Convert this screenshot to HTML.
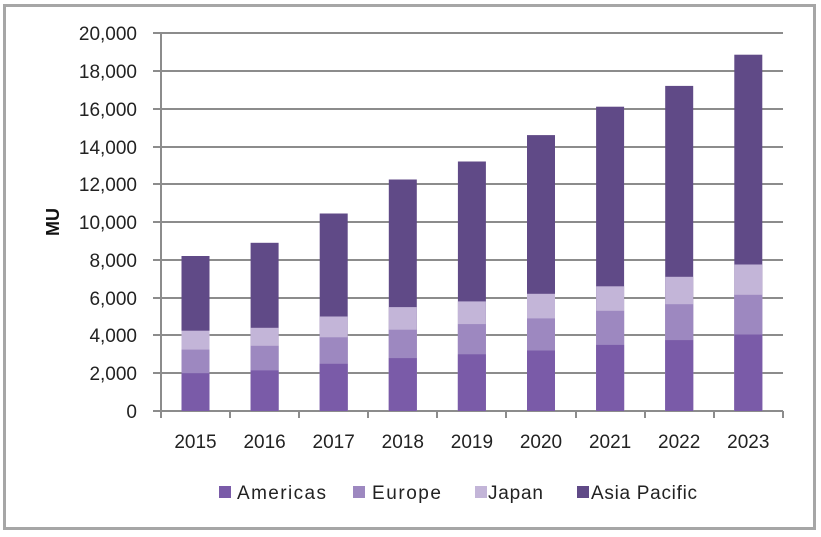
<!DOCTYPE html>
<html><head><meta charset="utf-8"><style>
html,body{margin:0;padding:0;background:#fff;}
svg{display:block;font-family:"Liberation Sans",sans-serif;}
</style></head><body>
<svg width="821" height="537" viewBox="0 0 821 537" xmlns="http://www.w3.org/2000/svg">
<rect x="0" y="0" width="821" height="537" fill="#fff"/>
<rect x="4.5" y="5.5" width="810" height="523" fill="#fff" stroke="#a6a6a6" stroke-width="3"/>
<g stroke="#8c8c8c" stroke-width="2">
<line x1="153" y1="33" x2="783" y2="33"/><line x1="153" y1="71" x2="783" y2="71"/>
<line x1="153" y1="109" x2="783" y2="109"/><line x1="153" y1="147" x2="783" y2="147"/>
<line x1="153" y1="184" x2="783" y2="184"/><line x1="153" y1="222" x2="783" y2="222"/>
<line x1="153" y1="260" x2="783" y2="260"/><line x1="153" y1="298" x2="783" y2="298"/>
<line x1="153" y1="335" x2="783" y2="335"/><line x1="153" y1="373" x2="783" y2="373"/>
<line x1="153" y1="411" x2="783" y2="411"/>
<line x1="161" y1="33" x2="161" y2="418"/>
<line x1="230" y1="411" x2="230" y2="418"/><line x1="299" y1="411" x2="299" y2="418"/>
<line x1="368" y1="411" x2="368" y2="418"/><line x1="437" y1="411" x2="437" y2="418"/>
<line x1="506" y1="411" x2="506" y2="418"/><line x1="576" y1="411" x2="576" y2="418"/>
<line x1="645" y1="411" x2="645" y2="418"/><line x1="714" y1="411" x2="714" y2="418"/>
<line x1="783" y1="411" x2="783" y2="418"/>
</g>
<g>
<rect x="181.5" y="256" width="28" height="155" fill="#604a87"/>
<rect x="181.5" y="330.7" width="28" height="80.3" fill="#c3b5d8"/>
<rect x="181.5" y="349.6" width="28" height="61.4" fill="#9d88c0"/>
<rect x="181.5" y="373.2" width="28" height="37.8" fill="#7a5ba8"/>
<rect x="250.6" y="242.8" width="28" height="168.2" fill="#604a87"/>
<rect x="250.6" y="327.8" width="28" height="83.2" fill="#c3b5d8"/>
<rect x="250.6" y="345.8" width="28" height="65.2" fill="#9d88c0"/>
<rect x="250.6" y="370.4" width="28" height="40.6" fill="#7a5ba8"/>
<rect x="319.7" y="213.5" width="28" height="197.5" fill="#604a87"/>
<rect x="319.7" y="316.5" width="28" height="94.5" fill="#c3b5d8"/>
<rect x="319.7" y="337.3" width="28" height="73.7" fill="#9d88c0"/>
<rect x="319.7" y="363.8" width="28" height="47.2" fill="#7a5ba8"/>
<rect x="388.8" y="179.5" width="28" height="231.5" fill="#604a87"/>
<rect x="388.8" y="307.1" width="28" height="103.9" fill="#c3b5d8"/>
<rect x="388.8" y="329.7" width="28" height="81.3" fill="#9d88c0"/>
<rect x="388.8" y="358.1" width="28" height="52.9" fill="#7a5ba8"/>
<rect x="457.9" y="161.5" width="28" height="249.5" fill="#604a87"/>
<rect x="457.9" y="301.4" width="28" height="109.6" fill="#c3b5d8"/>
<rect x="457.9" y="324.1" width="28" height="86.9" fill="#9d88c0"/>
<rect x="457.9" y="354.3" width="28" height="56.7" fill="#7a5ba8"/>
<rect x="527" y="135.1" width="28" height="275.9" fill="#604a87"/>
<rect x="527" y="293.8" width="28" height="117.2" fill="#c3b5d8"/>
<rect x="527" y="318.4" width="28" height="92.6" fill="#9d88c0"/>
<rect x="527" y="350.5" width="28" height="60.5" fill="#7a5ba8"/>
<rect x="596.1" y="106.7" width="28" height="304.3" fill="#604a87"/>
<rect x="596.1" y="286.3" width="28" height="124.7" fill="#c3b5d8"/>
<rect x="596.1" y="310.8" width="28" height="100.2" fill="#9d88c0"/>
<rect x="596.1" y="344.9" width="28" height="66.1" fill="#7a5ba8"/>
<rect x="665.2" y="85.9" width="28" height="325.1" fill="#604a87"/>
<rect x="665.2" y="276.8" width="28" height="134.2" fill="#c3b5d8"/>
<rect x="665.2" y="304.2" width="28" height="106.8" fill="#9d88c0"/>
<rect x="665.2" y="340.1" width="28" height="70.9" fill="#7a5ba8"/>
<rect x="734.3" y="54.7" width="28" height="356.3" fill="#604a87"/>
<rect x="734.3" y="264.5" width="28" height="146.5" fill="#c3b5d8"/>
<rect x="734.3" y="294.8" width="28" height="116.2" fill="#9d88c0"/>
<rect x="734.3" y="334.5" width="28" height="76.5" fill="#7a5ba8"/>
</g>
<g font-size="19" fill="#222" text-anchor="end">
<text x="137" y="40">20,000</text><text x="137" y="78">18,000</text>
<text x="137" y="116">16,000</text><text x="137" y="154">14,000</text>
<text x="137" y="191">12,000</text><text x="137" y="229">10,000</text>
<text x="137" y="267">8,000</text><text x="137" y="305">6,000</text>
<text x="137" y="342">4,000</text><text x="137" y="380">2,000</text>
<text x="137" y="418">0</text>
</g>
<text x="59" y="222" font-size="18" font-weight="bold" fill="#111" text-anchor="middle" transform="rotate(-90 59 222)">MU</text>
<g font-size="19" fill="#222" text-anchor="middle">
<text x="195.5" y="448">2015</text><text x="264.6" y="448">2016</text>
<text x="333.7" y="448">2017</text><text x="402.8" y="448">2018</text>
<text x="471.9" y="448">2019</text><text x="541" y="448">2020</text>
<text x="610.1" y="448">2021</text><text x="679.2" y="448">2022</text>
<text x="748.3" y="448">2023</text>
</g>
<g font-size="19" fill="#222">
<rect x="219" y="486" width="12" height="12" fill="#7a5ba8"/><text x="237" y="499" textLength="89" lengthAdjust="spacing">Americas</text>
<rect x="353" y="486" width="12" height="12" fill="#9d88c0"/><text x="372" y="499" textLength="69" lengthAdjust="spacing">Europe</text>
<rect x="475" y="486" width="12" height="12" fill="#c3b5d8"/><text x="488" y="499" textLength="55" lengthAdjust="spacing">Japan</text>
<rect x="577" y="486" width="12" height="12" fill="#604a87"/><text x="591" y="499" textLength="106" lengthAdjust="spacing">Asia Pacific</text>
</g>
</svg>
</body></html>
